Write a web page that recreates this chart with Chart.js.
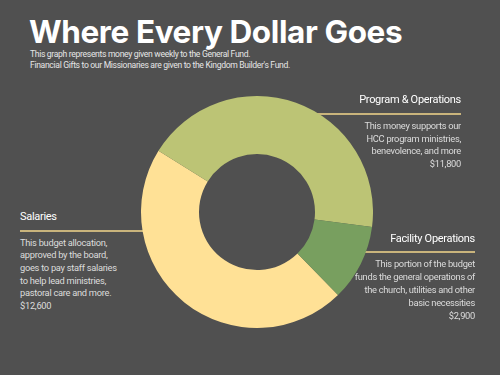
<!DOCTYPE html>
<html>
<head>
<meta charset="utf-8">
<script src="https://cdn.jsdelivr.net/npm/chart.js@4"></script>
<style>
  html, body { margin: 0; padding: 0; }
  body { width: 500px; height: 375px; background: #505050; position: relative; overflow: hidden; font-family: Roboto, "Open Sans", sans-serif; }
  .abs { position: absolute; z-index: 2; }
  #title { left: 29px; top: 11px; font-family: Inter, sans-serif; font-size: 31.5px; font-weight: 700; color: #fff; letter-spacing: -0.4px; white-space: nowrap; line-height: 42px; }
  #sub { left: 30px; top: 49px; font-size: 8.6px; color: #e6e6e6; line-height: 10.7px; white-space: nowrap; letter-spacing: -0.33px; }
  .head { font-size: 11px; color: #fff; white-space: nowrap; line-height: 15px; letter-spacing: -0.3px; }
  .body { font-size: 9.3px; color: #dcdcdc; white-space: nowrap; letter-spacing: -0.28px; }
  .rule { height: 2px; background: #c9b47c; z-index: 0; }
  #wrap { left: 141px; top: 96px; width: 232px; height: 232px; z-index: 1; }
  .right { text-align: right; }
</style>
</head>
<body>
<div id="title" class="abs">Where Every Dollar Goes</div>
<div id="sub" class="abs">This graph represents money given weekly to the General Fund.<br>Financial Gifts to our Missionaries are given to the Kingdom Builder's Fund.</div>

<div class="abs rule" style="left:20px; top:230px; width:140px;"></div>
<div class="abs rule" style="left:300px; top:113px; width:161px;"></div>
<div class="abs rule" style="left:355px; top:251px; width:120px;"></div>

<div class="abs head" style="left:20px; top:209px;">Salaries</div>
<div class="abs body" style="left:20px; top:236.6px; line-height:12.7px;">This budget allocation,<br>approved by the board,<br>goes to pay staff salaries<br>to help lead ministries,<br>pastoral care and more.<br>$12,600</div>

<div class="abs head right" style="right:39px; top:92px;">Program &amp; Operations</div>
<div class="abs body right" style="right:39px; top:120.4px; line-height:12.5px;">This money supports our<br>HCC program ministries,<br>benevolence, and more<br>$11,800</div>

<div class="abs head right" style="right:25px; top:231px;">Facility Operations</div>
<div class="abs body right" style="right:25px; top:257.9px; line-height:12.9px;">This portion of the budget<br>funds the general operations of<br>the church, utilities and other<br>basic necessities<br>$2,900</div>

<div id="wrap" class="abs"><canvas id="donut"></canvas></div>

<script>
const labels = ['Salaries', 'Program & Operations', 'Facility Operations'];
const amounts = [12600, 11800, 2900];
const colors = ['#ffe196', '#bcc475', '#789f5f'];

new Chart(document.getElementById('donut').getContext('2d'), {
    type: 'doughnut',
    data: {
        labels: labels,
        datasets: [{
            data: amounts,
            backgroundColor: colors,
            borderWidth: 0,
            hoverOffset: 0
        }]
    },
    options: {
        responsive: true,
        maintainAspectRatio: false,
        animation: false,
        cutout: '50%',
        rotation: 135.7,
        layout: { padding: 0 },
        plugins: { legend: { display: false }, tooltip: { enabled: false } }
    }
});
</script>
</body>
</html>
